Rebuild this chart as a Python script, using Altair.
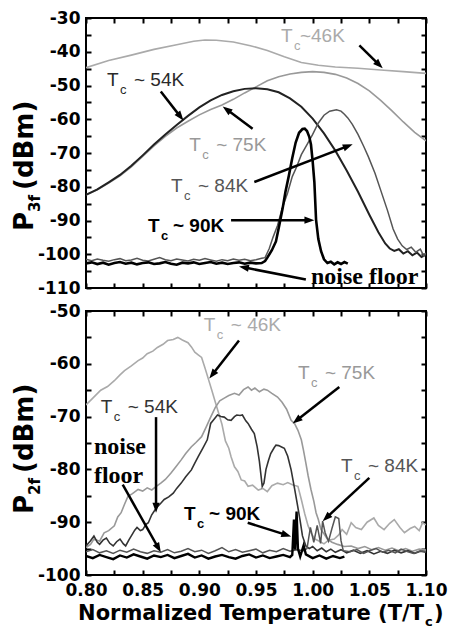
import math
import altair as alt
import pandas as pd


def grid(start, step, n):
    return [round(start + step * i, 4) for i in range(n)]


# ---------------- top panel data (P3f) ----------------
top46_x = [0.800, 0.820, 0.840, 0.860, 0.880, 0.895, 0.905, 0.915, 0.930, 0.945, 0.960,
           0.975, 0.990, 1.005, 1.020, 1.040, 1.060, 1.080, 1.100]
top46_y = [-44.7, -42.6, -41.0, -39.3, -37.9, -36.9, -36.5, -36.6, -37.1, -38.2, -39.6,
           -41.5, -43.2, -44.0, -44.5, -44.9, -45.4, -45.9, -46.4]

top75_x = [0.80, 0.81, 0.82, 0.83, 0.84, 0.85, 0.86, 0.87, 0.88, 0.89, 0.90, 0.91, 0.92,
           0.93, 0.94, 0.95, 0.96, 0.97, 0.98, 0.99, 1.00, 1.01, 1.02, 1.03, 1.04, 1.05,
           1.06, 1.07, 1.08, 1.09, 1.10]
top75_y = [-82.4, -80.9, -78.9, -76.8, -74.1, -71.0, -67.9, -65.1, -62.6, -60.6, -58.7,
           -57.1, -55.8, -54.1, -52.2, -50.4, -48.6, -47.4, -46.6, -46.1, -45.9, -46.1,
           -46.7, -47.8, -49.4, -51.6, -54.4, -57.5, -60.8, -63.9, -66.4]

top54_x = [0.80, 0.81, 0.82, 0.83, 0.84, 0.85, 0.86, 0.87, 0.88, 0.89, 0.90, 0.91, 0.92,
           0.93, 0.94, 0.95, 0.96, 0.97, 0.98, 0.99, 1.00, 1.01, 1.02, 1.03, 1.04, 1.05,
           1.058, 1.064, 1.068, 1.072, 1.076, 1.080, 1.084, 1.088, 1.092, 1.096, 1.100]
top54_y = [-82.4, -80.8, -78.7, -76.5, -73.8, -70.7, -67.5, -64.5, -61.7, -59.0, -56.5,
           -54.4, -52.8, -51.7, -51.0, -50.8, -51.1, -52.0, -53.8, -56.3, -59.8, -64.2,
           -69.3, -75.2, -81.5, -88.3, -93.5, -96.8, -98.3, -99.0, -98.5, -99.8, -99.1,
           -100.3, -99.5, -100.8, -100.1]

top84_noise_x = grid(0.800, 0.005, 32)
top84_noise_y = [-101.5, -101.9, -101.4, -101.8, -102.1, -101.6, -101.3, -101.9, -101.7,
                 -101.2, -101.8, -102.0, -101.5, -101.0, -101.6, -101.9, -101.4, -101.7,
                 -102.0, -101.5, -101.8, -101.3, -101.7, -102.1, -101.6, -101.9, -101.4,
                 -101.8, -101.5, -101.9, -101.6, -101.2]
top84_peak_x = [0.958, 0.9617, 0.965, 0.969, 0.973, 0.978, 0.982, 0.986, 0.990, 0.995,
                1.000, 1.005, 1.010, 1.015, 1.021, 1.025, 1.028, 1.031, 1.035, 1.040,
                1.045, 1.049, 1.055, 1.060, 1.066, 1.071, 1.075, 1.079, 1.083, 1.087,
                1.091, 1.095, 1.098, 1.100]
top84_peak_y = [-101.0, -98.3, -95.0, -91.5, -86.5, -81.7, -77.0, -74.0, -70.5, -67.5,
                -64.5, -61.1, -58.8, -57.6, -57.2, -57.6, -58.5, -59.6, -61.5, -64.5,
                -68.0, -71.0, -76.0, -81.0, -87.0, -92.5, -95.5, -97.5, -98.6, -97.9,
                -99.4, -98.5, -100.5, -99.6]

top90_noise_x = grid(0.800, 0.005, 32)
top90_noise_y = [-102.7, -102.4, -102.9, -102.5, -103.1, -102.6, -102.3, -102.8, -102.5,
                 -103.0, -102.6, -102.4, -102.9, -102.7, -102.3, -102.8, -103.1, -102.5,
                 -102.7, -102.4, -102.9, -102.6, -102.3, -102.8, -102.5, -102.9, -102.6,
                 -102.4, -102.8, -102.5, -102.7, -102.6]
top90_peak_x = [0.958, 0.960, 0.964, 0.9676, 0.9705, 0.9735, 0.976, 0.979, 0.982, 0.985,
                0.988, 0.991, 0.993, 0.995, 0.997, 0.9985, 1.000, 1.0015, 1.003, 1.005,
                1.0074, 1.010, 1.013, 1.016, 1.019, 1.022, 1.025, 1.028, 1.031]
top90_peak_y = [-102.0, -101.0, -98.8, -96.2, -91.5, -86.4, -81.5, -76.7, -71.5, -66.9,
                -64.0, -62.9, -62.8, -63.5, -65.2, -67.5, -72.5, -78.6, -89.8, -95.5,
                -99.1, -101.5, -102.6, -102.2, -103.0, -102.4, -102.9, -102.3, -102.8]

# ---------------- bottom panel data (P2f) ----------------
bot46_x = [0.800, 0.806, 0.813, 0.819, 0.825, 0.830, 0.834, 0.840, 0.846, 0.850, 0.854,
           0.859, 0.863, 0.868, 0.872, 0.877, 0.881, 0.885, 0.890, 0.893, 0.896, 0.899,
           0.902, 0.905, 0.908, 0.911, 0.914, 0.917, 0.920, 0.923, 0.926, 0.928, 0.931,
           0.934, 0.937, 0.940, 0.943, 0.947, 0.952, 0.956, 0.960, 0.964, 0.969, 0.974,
           0.978, 0.983, 0.987, 0.990, 0.993, 0.996, 0.999, 1.002, 1.006, 1.010, 1.014,
           1.019, 1.023, 1.026, 1.030, 1.034, 1.038, 1.043, 1.048, 1.054, 1.058, 1.063,
           1.068, 1.072, 1.077, 1.081, 1.086, 1.090, 1.094, 1.097, 1.100]
bot46_y = [-67.8, -66.5, -65.0, -64.3, -63.2, -62.1, -61.3, -60.4, -59.4, -58.9, -58.1,
           -57.6, -56.9, -56.3, -55.6, -55.4, -55.0, -55.5, -56.0, -56.8, -57.8, -58.3,
           -58.8, -60.8, -62.9, -65.0, -67.2, -69.3, -71.5, -74.6, -76.0, -77.6, -79.5,
           -80.4, -82.0, -82.2, -83.2, -83.0, -83.9, -83.6, -84.2, -83.1, -82.6, -82.9,
           -82.5, -83.0, -83.2, -85.7, -88.4, -90.7, -92.2, -93.2, -93.6, -94.1, -93.4,
           -93.2, -92.4, -91.4, -92.3, -90.1, -91.0, -91.4, -90.0, -89.2, -90.6, -91.4,
           -90.2, -89.5, -91.0, -92.0, -91.2, -90.8, -91.6, -90.1, -90.5]

bot75_x = [0.800, 0.804, 0.807, 0.812, 0.816, 0.820, 0.825, 0.828, 0.831, 0.834, 0.837,
           0.841, 0.846, 0.850, 0.854, 0.858, 0.862, 0.866, 0.870, 0.875, 0.879, 0.884,
           0.888, 0.893, 0.897, 0.902, 0.906, 0.910, 0.914, 0.918, 0.922, 0.926, 0.931,
           0.935, 0.939, 0.943, 0.946, 0.949, 0.953, 0.957, 0.960, 0.964, 0.969, 0.973,
           0.977, 0.981, 0.984, 0.987, 0.990, 0.992, 0.994, 0.996, 0.9985, 1.001, 1.003,
           1.005, 1.0074, 1.010, 1.013, 1.017, 1.022, 1.028, 1.034, 1.040, 1.046, 1.052,
           1.058, 1.064, 1.070, 1.076, 1.082, 1.088, 1.094, 1.100]
bot75_y = [-94.8, -94.2, -93.2, -93.6, -92.0, -91.6, -90.7, -89.0, -88.2, -86.6, -85.1,
           -84.6, -83.8, -84.1, -83.5, -83.9, -83.2, -82.6, -81.9, -80.7, -79.6, -78.2,
           -77.0, -75.7, -74.9, -73.8, -72.0, -70.1, -68.3, -67.0, -66.5, -66.0, -65.6,
           -65.9, -64.9, -64.4, -65.0, -64.6, -65.3, -64.8, -65.0, -65.6, -66.3, -67.3,
           -68.6, -70.7, -71.3, -72.6, -74.4, -76.5, -78.8, -81.2, -83.8, -86.0, -88.2,
           -89.5, -91.4, -92.2, -93.2, -93.8, -94.2, -94.6, -94.5, -95.0, -94.6, -95.2,
           -94.8, -95.3, -94.9, -95.4, -95.0, -95.5, -95.1, -95.3]

bot54_x = [0.800, 0.804, 0.807, 0.810, 0.812, 0.815, 0.818, 0.821, 0.824, 0.827, 0.830,
           0.833, 0.835, 0.838, 0.840, 0.843, 0.845, 0.848, 0.850, 0.853, 0.855, 0.858,
           0.862, 0.866, 0.869, 0.873, 0.877, 0.880, 0.884, 0.888, 0.893, 0.896, 0.899,
           0.903, 0.907, 0.910, 0.913, 0.916, 0.919, 0.922, 0.925, 0.928, 0.931, 0.933,
           0.936, 0.938, 0.941, 0.943, 0.946, 0.9485, 0.951, 0.953, 0.9555, 0.957, 0.9588,
           0.961, 0.963, 0.966, 0.9676, 0.970, 0.973, 0.975, 0.978, 0.981, 0.984, 0.9868,
           0.989, 0.991, 0.994, 0.997, 1.000, 1.004, 1.008, 1.012, 1.016, 1.020, 1.025,
           1.030, 1.036, 1.042, 1.048, 1.054, 1.060, 1.066, 1.072, 1.078, 1.084, 1.090,
           1.095, 1.100]
bot54_y = [-94.5, -93.5, -92.6, -93.8, -94.2, -93.4, -93.0, -94.0, -94.5, -93.7, -93.2,
           -94.1, -94.5, -93.3, -92.6, -91.5, -91.0, -91.6, -91.4, -90.4, -90.1, -88.6,
           -87.3, -86.4, -85.7, -85.2, -84.5, -83.6, -82.6, -81.4, -80.1, -78.8, -77.6,
           -76.0, -74.4, -71.3, -70.5, -69.7, -70.0, -70.1, -70.6, -70.7, -70.0, -69.7,
           -69.8, -69.7, -70.8, -71.3, -72.4, -73.2, -75.7, -78.5, -83.2, -82.6, -80.0,
           -78.3, -77.0, -75.9, -75.4, -75.5, -75.8, -76.0, -77.5, -80.1, -83.6, -87.0,
           -89.8, -92.6, -94.5, -95.0, -94.6, -95.4, -94.9, -95.6, -95.1, -95.7, -95.2,
           -95.8, -95.3, -95.9, -95.4, -96.0, -95.5, -95.9, -95.3, -95.8, -95.4, -95.9,
           -95.5, -95.7]

bot84_noise_x = grid(0.800, 0.006, 33)
bot84_noise_y = [-95.6, -95.2, -95.8, -95.4, -95.9, -95.3, -95.7, -95.1, -95.6, -95.9,
                 -95.4, -95.7, -95.2, -95.8, -95.5, -95.0, -95.6, -95.3, -95.9, -95.4,
                 -94.8, -95.6, -95.2, -95.7, -95.4, -95.1, -95.8, -95.3, -95.6, -95.0,
                 -95.5, -95.2, -95.4]
bot84_bump_x = [0.995, 0.998, 1.001, 1.004, 1.007, 1.0088, 1.011, 1.014, 1.017, 1.020,
                1.023, 1.025, 1.027, 1.033, 1.039, 1.045, 1.050, 1.056, 1.062, 1.067,
                1.073, 1.078, 1.084, 1.089, 1.095, 1.100]
bot84_bump_y = [-95.0, -91.0, -93.8, -90.6, -94.0, -89.8, -92.0, -93.6, -91.2, -89.0,
                -89.3, -93.5, -95.4, -95.6, -95.2, -95.9, -95.4, -95.0, -95.7, -95.3,
                -95.8, -95.1, -95.6, -95.9, -95.4, -95.6]

bot90_noise_x = grid(0.800, 0.006, 31)
bot90_noise_y = [-96.4, -96.8, -96.2, -96.6, -97.0, -96.3, -96.7, -96.1, -96.5, -96.9,
                 -96.3, -96.6, -96.2, -96.8, -96.4, -96.0, -96.7, -96.3, -96.9, -96.5,
                 -96.2, -96.6, -96.9, -96.4, -96.1, -96.7, -96.3, -96.8, -96.5, -96.2,
                 -96.6]
bot90_spike_x = [0.982, 0.9835, 0.9845, 0.9858, 0.987, 0.989, 0.992, 0.994, 1.000, 1.006,
                 1.012, 1.018, 1.024, 1.028]
bot90_spike_y = [-96.2, -89.5, -95.2, -88.0, -95.0, -96.5, -94.4, -96.1, -96.8, -96.3,
                 -96.9, -96.4, -96.8, -96.5]

# annotations: (x_start, y_start, x_head, y_head)
top_arrows = [
    (1.0412, -38.1, 1.0618, -44.9),
    (0.866, -51.8, 0.886, -60.4),
    (0.947, -62.8, 0.9206, -56.2),
    (0.9485, -78.6, 1.0353, -67.4),
    (0.928, -89.9, 1.0015, -89.9),
    (0.994, -107.5, 0.935, -103.6),
]
bot_arrows = [
    (0.935, -55.6, 0.9088, -62.8),
    (1.0235, -64.4, 0.9824, -71.3),
    (0.8618, -70.1, 0.8618, -88.2),
    (0.8324, -82.9, 0.866, -95.7),
    (0.9427, -90.1, 0.981, -92.7),
    (1.05, -81.6, 1.0088, -89.8),
]
# labels: (x, y, rest text, colour, bold, dx of rest)
top_labels = [
    (0.972, -37.0, "~46K", "#aaaaaa", False, 19),
    (0.8185, -50.2, "~ 54K", "#2a2a2a", False, 27),
    (0.891, -69.3, "~ 75K", "#999999", False, 27),
    (0.875, -81.6, "~ 84K", "#555555", False, 27),
    (0.8547, -93.3, "~ 90K", "#000000", True, 25),
]
bot_labels = [
    (0.904, -53.8, "~ 46K", "#aaaaaa", False, 27),
    (0.987, -62.8, "~ 75K", "#999999", False, 27),
    (0.813, -69.4, "~ 54K", "#333333", False, 27),
    (0.8865, -89.5, "~ 90K", "#000000", True, 25),
    (1.025, -80.4, "~ 84K", "#555555", False, 27),
]
top_noise_text = [(0.9985, -108.9, "noise floor")]
bot_noise_text = [(0.807, -77.0, "noise"), (0.807, -82.6, "floor")]

# ---------------- styling / layout ----------------
W = 340
H1 = 270
H2 = 264
XDOM = [0.8, 1.1]
Y1DOM = [-110, -30]
Y2DOM = [-100, -50]
SANS = "Liberation Sans"
SERIF = "Liberation Serif"
TICKF = "DejaVu Sans"

XS = alt.Scale(domain=XDOM, nice=False, zero=False)
xticks = [round(0.8 + 0.025 * i, 3) for i in range(13)]


def yticks(dom):
    return list(range(dom[0], dom[1] + 1, 5))


def axis(orient, values, labels, expr=None):
    kw = dict(orient=orient, values=values, tickSize=5, tickWidth=2, tickColor="black",
              offset=-5, domain=False, grid=False, title=None, labels=labels)
    if labels:
        kw.update(labelExpr=expr, labelFont=TICKF, labelFontSize=17,
                  labelFontWeight="bold", labelColor="black", labelFlush=False,
                  labelOverlap=False, labelPadding=7 if orient == "bottom" else 6)
    return alt.Axis(**kw)


XEXPR = "(round(datum.value*1000) % 50 == 0) ? format(datum.value, '.2f') : ''"
YEXPR = "(datum.value % 10 == 0) ? ('' + datum.value) : ''"


def line(xs, ys, color, width, ys_scale, xaxis=None, yaxis=None):
    df = pd.DataFrame({"x": xs, "y": ys, "i": list(range(len(xs)))})
    return alt.Chart(df).mark_line(color=color, strokeWidth=width, clip=True).encode(
        x=alt.X("x:Q", scale=XS, axis=xaxis),
        y=alt.Y("y:Q", scale=ys_scale, axis=yaxis),
        order="i:Q",
    )


def arrows(spec, ydom, h, ys_scale):
    sx = W / (XDOM[1] - XDOM[0])
    sy = h / (ydom[1] - ydom[0])
    rows = []
    for (x1, y1, x2, y2) in spec:
        dxp = (x2 - x1) * sx
        dyp = -(y2 - y1) * sy
        L = math.hypot(dxp, dyp)
        ang = math.degrees(math.atan2(dxp, -dyp)) % 360
        f = max(L - 6, 0) / L
        rows.append(dict(x=x1, y=y1, x2=x1 + (x2 - x1) * f, y2=y1 + (y2 - y1) * f,
                         hx=x2, hy=y2, ang=ang))
    df = pd.DataFrame(rows)
    shaft = alt.Chart(df).mark_rule(color="black", strokeWidth=2.5).encode(
        x=alt.X("x:Q", scale=XS, axis=None), y=alt.Y("y:Q", scale=ys_scale, axis=None),
        x2="x2:Q", y2="y2:Q")
    head = alt.Chart(df).mark_point(shape="M0,0L-0.8,2.2L0.8,2.2Z", filled=True,
                                    size=81, color="black", opacity=1, strokeWidth=0).encode(
        x=alt.X("hx:Q", scale=XS, axis=None), y=alt.Y("hy:Q", scale=ys_scale, axis=None),
        angle=alt.Angle("ang:Q", scale=None))
    return [shaft, head]


def tc_labels(spec, ys_scale):
    out = []
    for (x, y, rest, color, bold, rdx) in spec:
        df = pd.DataFrame({"x": [x], "y": [y]})
        w = "bold" if bold else "normal"
        base = alt.Chart(df).encode(x=alt.X("x:Q", scale=XS, axis=None),
                                    y=alt.Y("y:Q", scale=ys_scale, axis=None))
        common = dict(align="left", baseline="alphabetic", font=SANS, fontWeight=w, color=color)
        out.append(base.mark_text(text="T", fontSize=19, **common))
        out.append(base.mark_text(text="c", fontSize=13, dx=13, dy=8, **common))
        out.append(base.mark_text(text=rest, fontSize=19, dx=rdx, **common))
    return out


def serif_labels(spec, ys_scale):
    df = pd.DataFrame([dict(x=a, y=b, t=c) for (a, b, c) in spec])
    return [alt.Chart(df).mark_text(align="left", baseline="alphabetic", font=SERIF,
                                    fontSize=24, fontWeight="bold", color="black").encode(
        x=alt.X("x:Q", scale=XS, axis=None), y=alt.Y("y:Q", scale=ys_scale, axis=None),
        text="t:N")]


def ytitle(sub, anchor_y):
    df = pd.DataFrame({"a": [0]})
    base = alt.Chart(df).encode(x=alt.value(-53), y=alt.value(anchor_y))
    common = dict(angle=270, align="left", baseline="alphabetic", font=TICKF,
                  fontWeight="bold", color="black")
    return [base.mark_text(text="P", fontSize=26, **common),
            base.mark_text(text=sub, fontSize=15, dx=19, dy=7, **common),
            base.mark_text(text="(dBm)", fontSize=26, dx=41, **common)]


def xtitle(h):
    df = pd.DataFrame({"a": [0]})
    base = alt.Chart(df).encode(x=alt.value(338), y=alt.value(h + 45))
    common = dict(baseline="alphabetic", font=TICKF, fontWeight="bold", color="black")
    return [base.mark_text(text="Normalized Temperature (T/T", align="right", fontSize=21, **common),
            base.mark_text(text="c", align="left", fontSize=13, dx=1, dy=6, **common),
            base.mark_text(text=")", align="left", fontSize=21, dx=10, **common)]


# ---------------- top panel ----------------
YS1 = alt.Scale(domain=Y1DOM, nice=False, zero=False)
top_layers = [
    line(top46_x, top46_y, "#aaaaaa", 1.6, YS1,
         xaxis=axis("bottom", xticks, False), yaxis=axis("left", yticks(Y1DOM), True, YEXPR)),
    line(top75_x, top75_y, "#999999", 1.6, YS1,
         xaxis=axis("top", xticks, False), yaxis=axis("right", yticks(Y1DOM), False)),
    line(top54_x, top54_y, "#222222", 2.0, YS1),
    line(top84_noise_x + top84_peak_x, top84_noise_y + top84_peak_y, "#555555", 1.5, YS1),
    line(top90_noise_x + top90_peak_x, top90_noise_y + top90_peak_y, "#000000", 2.6, YS1),
]
top_layers += arrows(top_arrows, Y1DOM, H1, YS1)
top_layers += tc_labels(top_labels, YS1)
top_layers += serif_labels(top_noise_text, YS1)
top_layers += ytitle("3f", round(H1 * 0.79))

top = alt.layer(*top_layers).properties(width=W, height=H1).resolve_axis(
    x="independent", y="independent")

# ---------------- bottom panel ----------------
YS2 = alt.Scale(domain=Y2DOM, nice=False, zero=False)
bot_layers = [
    line(bot46_x, bot46_y, "#aaaaaa", 1.6, YS2,
         xaxis=axis("bottom", xticks, True, XEXPR), yaxis=axis("left", yticks(Y2DOM), True, YEXPR)),
    line(bot75_x, bot75_y, "#999999", 1.6, YS2,
         xaxis=axis("top", xticks, False), yaxis=axis("right", yticks(Y2DOM), False)),
    line(bot54_x, bot54_y, "#333333", 1.6, YS2),
    line(bot84_noise_x + bot84_bump_x, bot84_noise_y + bot84_bump_y, "#555555", 1.5, YS2),
    line(bot90_noise_x + bot90_spike_x, bot90_noise_y + bot90_spike_y, "#000000", 2.4, YS2),
]
bot_layers += arrows(bot_arrows, Y2DOM, H2, YS2)
bot_layers += tc_labels(bot_labels, YS2)
bot_layers += serif_labels(bot_noise_text, YS2)
bot_layers += ytitle("2f", round(H2 * 0.77))
bot_layers += xtitle(H2)

bot = alt.layer(*bot_layers).properties(width=W, height=H2).resolve_axis(
    x="independent", y="independent")

chart = alt.vconcat(top, bot, spacing=23, bounds="flush").properties(
    padding={"left": 3, "top": 0, "right": 0, "bottom": 0}
).configure_view(stroke="black", strokeWidth=2)

chart.save("out.html", embed_options={"renderer": "svg", "actions": False})
